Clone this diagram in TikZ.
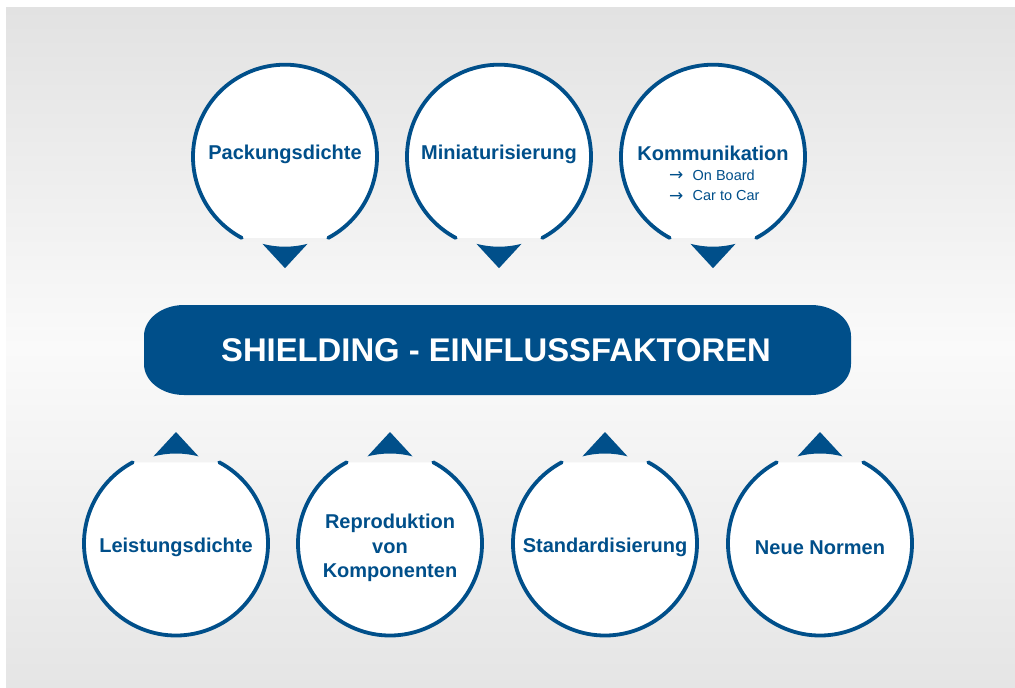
\documentclass[tikz,border=0pt]{standalone}
\usepackage{fontspec}
\setmainfont{Liberation Sans}
\newfontfamily\arrowfont{DejaVu Sans}
\definecolor{brandblue}{RGB}{0,79,138}
\definecolor{bgtop}{RGB}{226,226,226}
\definecolor{bgmid}{RGB}{250,250,250}
\definecolor{bgbot}{RGB}{229,229,229}
\begin{document}
\begin{tikzpicture}[x=1pt,y=1pt,
  ring/.style={draw=brandblue, line width=3.8pt, line cap=round},
  bubbletext/.style={text=brandblue, font=\bfseries\fontsize{20}{24.5}\selectfont, align=center, inner sep=0pt},
  subtext/.style={text=brandblue, font=\fontsize{14.5}{17}\selectfont, inner sep=0pt, anchor=west},
  subarrow/.style={text=brandblue, font=\arrowfont\fontsize{17}{19}\selectfont, inner sep=0pt, anchor=west},
  tipfill/.style={fill=brandblue},
  % bubble whose opening and pointer face downwards
  topbubble/.pic={
    \fill[white] (-62:92) arc[start angle=-62, end angle=242, radius=92] -- cycle;
    \draw[ring] (-62:92) arc[start angle=-62, end angle=242, radius=92];
    \fill[tipfill] (-104.5:90) arc[start angle=-104.5, end angle=-75.5, radius=90] -- (0,-111.5) -- cycle;
  },
  % bubble whose opening and pointer face upwards
  bottombubble/.pic={
    \fill[white] (62:92) arc[start angle=62, end angle=-242, radius=92] -- cycle;
    \draw[ring] (62:92) arc[start angle=62, end angle=-242, radius=92];
    \fill[tipfill] (104.5:90) arc[start angle=104.5, end angle=75.5, radius=90] -- (0,111.5) -- cycle;
  },
]
\useasboundingbox (0,0) rectangle (1015,-688);
\fill[white] (0,0) rectangle (1015,-688);
\shade[top color=bgtop, bottom color=bgbot, middle color=bgmid] (6,-7) rectangle (1015,-688);

% central banner
\fill[brandblue] (184,-305) -- (811,-305)
  arc[start angle=90, end angle=0, x radius=40, y radius=31] -- (851,-364)
  arc[start angle=0, end angle=-90, x radius=40, y radius=31] -- (184,-395)
  arc[start angle=270, end angle=180, x radius=40, y radius=31] -- (144,-336)
  arc[start angle=180, end angle=90, x radius=40, y radius=31] -- cycle;
\node[text=white, font=\bfseries\fontsize{32.8}{36}\selectfont, inner sep=0pt] (title) at (496,-350) {SHIELDING - EINFLUSSFAKTOREN};

% upper row
\pic at (285,-156.7) {topbubble};
\pic at (499,-156.7) {topbubble};
\pic at (713,-156.7) {topbubble};
\node[bubbletext] (pack) at (285,-154) {Packungsdichte};
\node[bubbletext] (mini) at (499,-154) {Miniaturisierung};
\node[bubbletext] (komm) at (713,-153) {Kommunikation};
\node[subarrow] (arrA) at (669,-176.5) {→};
\node[subtext] (board) at (692.5,-175) {On Board};
\node[subarrow] (arrB) at (669,-197) {→};
\node[subtext] (car) at (692.5,-195.5) {Car to Car};

% lower row
\pic at (176,-543.5) {bottombubble};
\pic at (390,-543.5) {bottombubble};
\pic at (605,-543.5) {bottombubble};
\pic at (820,-543.5) {bottombubble};
\node[bubbletext] (leist) at (176,-547.5) {Leistungsdichte};
\node[bubbletext] (repro) at (390,-548) {Reproduktion\\von\\Komponenten};
\node[bubbletext] (stand) at (605,-547) {Standardisierung};
\node[bubbletext] (normen) at (820,-547.3) {Neue Normen};
\end{tikzpicture}
\end{document}
